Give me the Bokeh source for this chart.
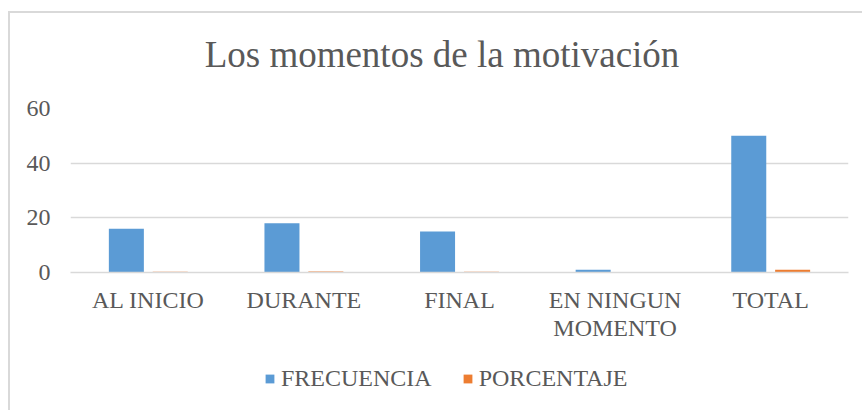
from bokeh.plotting import figure
from bokeh.layouts import column
from bokeh.models import ColumnDataSource, FactorRange, Legend, LegendItem, FixedTicker, Label
from bokeh.transform import dodge
from bokeh.embed import file_html
from bokeh.resources import INLINE

title_text = "Los momentos de la motivación"
categories = ["AL INICIO", "DURANTE", "FINAL", "EN NINGUN\nMOMENTO", "TOTAL"]
frecuencia = [16, 18, 15, 1, 50]
porcentaje = [0.32, 0.36, 0.30, 0.02, 1.0]
y_ticks = [0, 20, 40, 60]
series_names = ["FRECUENCIA", "PORCENTAJE"]
series_colors = ["#5B9BD5", "#ED7D31"]

FONT = "Liberation Serif"
TXT = "#595959"
GRID = "#d9d9d9"
W = 852
FL, FR, FW = 60, 14, 778  # frame left border, right border, width


def strip(h):
    f = figure(width=W, height=h, x_range=(0, FW), y_range=(0, h),
               output_backend="svg", toolbar_location=None,
               x_axis_location=None, y_axis_location=None,
               min_border=0, min_border_left=FL, min_border_right=FR,
               min_border_top=0, min_border_bottom=0)
    f.grid.visible = False
    f.outline_line_color = None
    f.title.visible = False
    return f


# title strip
p0 = strip(65)
p0.add_layout(Label(x=371.5, y=24, text=title_text, text_align="center",
                    text_baseline="alphabetic", text_font=FONT, text_font_size="37px",
                    text_color=TXT))

# main chart
src = ColumnDataSource(dict(cat=categories, frec=frecuencia, porc=porcentaje))
p = figure(x_range=FactorRange(*categories), y_range=(0, 60),
           width=W, height=272, frame_width=FW, frame_height=164,
           output_backend="svg", toolbar_location=None,
           min_border_left=FL, min_border_right=FR, min_border_top=30, min_border_bottom=78)
p.title.visible = False

r1 = p.vbar(x=dodge("cat", -0.141, range=p.x_range), top="frec", width=0.225,
            source=src, fill_color=series_colors[0], line_color=None)
r2 = p.vbar(x=dodge("cat", 0.141, range=p.x_range), top="porc", width=0.225,
            source=src, fill_color=series_colors[1], line_color=None)

p.outline_line_color = None
p.xgrid.grid_line_color = None
p.ygrid.grid_line_color = GRID
p.ygrid.grid_line_width = 1.3
p.yaxis.ticker = FixedTicker(ticks=y_ticks)
for ax in (p.xaxis, p.yaxis):
    ax.major_label_text_font = FONT
    ax.major_label_text_font_size = "24px"
    ax.major_label_text_color = TXT
    ax.major_tick_line_color = None
    ax.minor_tick_line_color = None
p.yaxis.axis_line_color = None
p.xaxis.axis_line_color = GRID
p.xaxis.axis_line_width = 1.3
p.xaxis.major_label_standoff = 8
p.xaxis.major_label_text_line_height = 1.08
p.yaxis.major_label_standoff = 14

# legend strip below the chart
p2 = strip(60)
lr1 = p2.vbar(x=[-100], top=[-100], width=1, fill_color=series_colors[0], line_color=None)
lr2 = p2.vbar(x=[-100], top=[-100], width=1, fill_color=series_colors[1], line_color=None)
legend = Legend(items=[LegendItem(label=series_names[0], renderers=[lr1]),
                       LegendItem(label=series_names[1], renderers=[lr2])],
                orientation="horizontal", location=(194, 18),
                label_text_font=FONT, label_text_font_size="24px", label_text_color=TXT,
                glyph_width=11, glyph_height=11, spacing=30, border_line_color=None,
                background_fill_alpha=0, label_standoff=6, padding=0, margin=0)
p2.add_layout(legend, "center")

layout = column(p0, p, p2, spacing=0)
layout.styles = {"margin-left": "8px", "margin-top": "11px",
                 "border-left": "2px solid #d9d9d9", "border-top": "2px solid #d9d9d9"}

open("out.html", "w").write(file_html(layout, INLINE))
